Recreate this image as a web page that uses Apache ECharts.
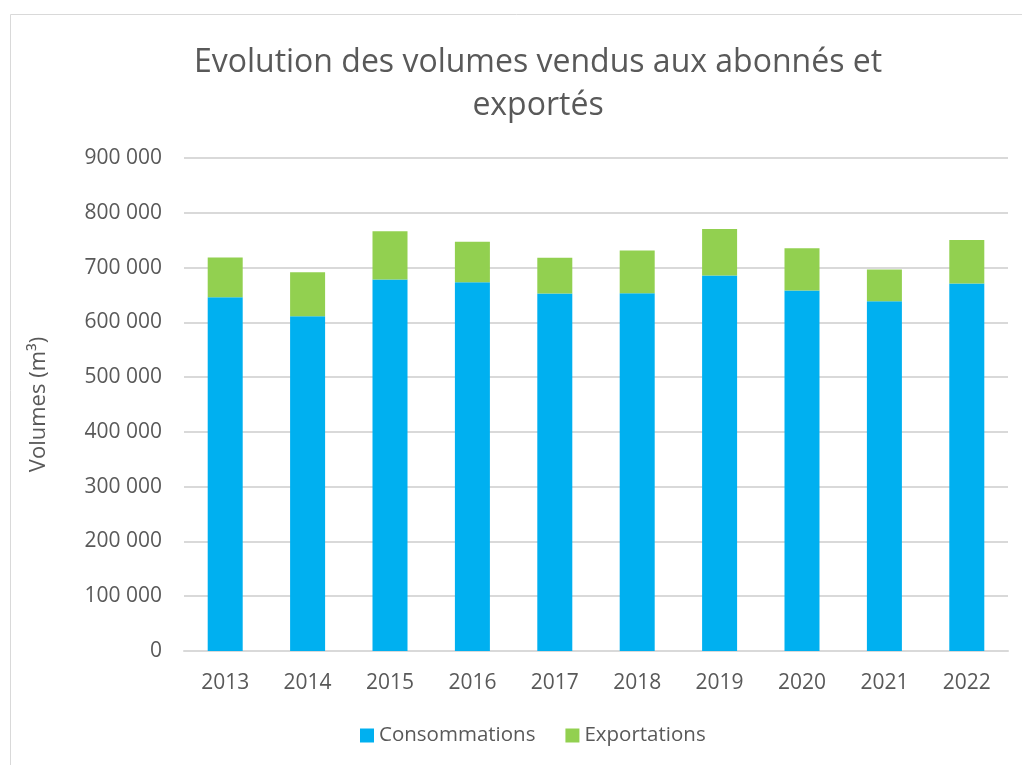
<!DOCTYPE html>
<html lang="fr">
<head>
<meta charset="UTF-8"/>
<title>Evolution des volumes</title>
<script src="https://cdn.jsdelivr.net/npm/echarts@6/dist/echarts.min.js"></script>
<style>
  html, body { margin: 0; padding: 0; background: #fff; }
  #main { width: 1022px; height: 765px; }
</style>
</head>
<body>
<div id="main"></div>
<script>
// données
var annees = ['2013', '2014', '2015', '2016', '2017', '2018', '2019', '2020', '2021', '2022'];
var consommations = [645800, 611100, 678100, 673200, 652600, 653100, 685400, 658000, 638500, 670800];
var exportations = [72400, 80300, 88100, 73700, 65100, 77900, 85200, 77200, 57900, 79700];
var yTicks = [0, 100000, 200000, 300000, 400000, 500000, 600000, 700000, 800000, 900000];

var police = '"Open Sans", sans-serif';
var gris = '#595959';

var myChart = echarts.init(document.getElementById('main'));

function formatNombre(v) {
    // espace comme séparateur de milliers
    return String(v).replace(/\B(?=(\d{3})+(?!\d))/g, ' ');
}

myChart.setOption({
    animation: false,
    textStyle: { fontFamily: police },
    graphic: [{
        type: 'rect',
        shape: { x: 10.5, y: 14.5, width: 1100, height: 1000 },
        style: { fill: 'none', stroke: '#d9d9d9', lineWidth: 1 },
        silent: true
    }],
    title: {
        text: 'Evolution des volumes vendus aux abonnés et\nexportés',
        left: 533,
        top: 36,
        textAlign: 'center',
        textStyle: {
            fontFamily: police,
            fontSize: 32,
            fontWeight: 'normal',
            color: gris,
            lineHeight: 43
        }
    },
    legend: {
        bottom: 14,
        left: 355,
        itemWidth: 14,
        itemHeight: 14,
        itemGap: 30,
        icon: 'rect',
        textStyle: { fontFamily: police, fontSize: 20.5, color: gris },
        data: ['Consommations', 'Exportations']
    },
    grid: {
        left: 184,
        right: 14,
        top: 158,
        bottom: 114
    },
    xAxis: {
        type: 'category',
        data: annees,
        axisTick: { show: false },
        axisLine: { lineStyle: { color: '#d9d9d9', width: 2 } },
        axisLabel: { fontSize: 21, color: gris, margin: 22, fontFamily: police }
    },
    yAxis: {
        type: 'value',
        min: yTicks[0],
        max: yTicks[yTicks.length - 1],
        interval: 100000,
        name: 'Volumes (m³)',
        nameLocation: 'middle',
        nameGap: 134,
        nameTextStyle: { fontSize: 22, color: gris, fontFamily: police },
        axisLine: { show: false },
        axisTick: { show: false },
        splitLine: { lineStyle: { color: '#d9d9d9', width: 2 } },
        axisLabel: {
            fontSize: 21,
            color: gris,
            margin: 22,
            fontFamily: police,
            formatter: formatNombre
        }
    },
    series: [{
        name: 'Consommations',
        type: 'bar',
        stack: 'total',
        barWidth: 35,
        data: consommations,
        itemStyle: { color: '#00b0f0' }
    }, {
        name: 'Exportations',
        type: 'bar',
        stack: 'total',
        barWidth: 35,
        data: exportations,
        itemStyle: { color: '#92d050' }
    }]
});
</script>
</body>
</html>
